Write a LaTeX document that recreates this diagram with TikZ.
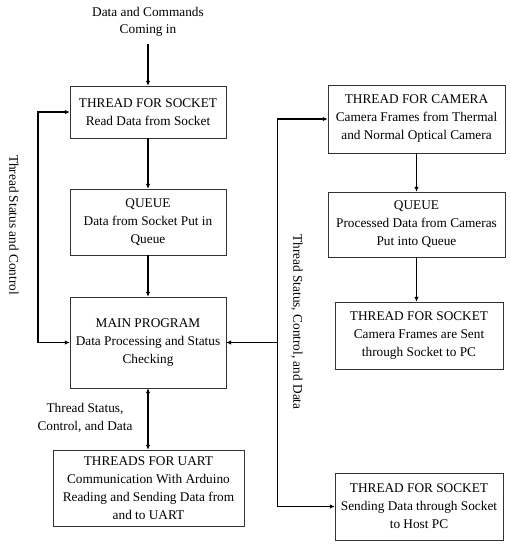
\documentclass[tikz,border=0pt]{standalone}
\usepackage{fontspec}
\setmainfont{Liberation Serif}
\usetikzlibrary{positioning,arrows.meta,calc}
\tikzset{
    boxnode/.style={align=center, inner sep=0pt, draw=black!80, fill=white, font=\fontsize{13.3}{18}\selectfont},
    % Left column boxes
    node_left/.style = {boxnode, minimum width=156pt},
    % Right column boxes
    node_right/.style = {boxnode, minimum width=177pt},
    % Connectors
    link/.style = {line width=1.4pt, -{Latex[length=5pt,width=4.5pt]}},
    link_both/.style = {line width=1.4pt, {Latex[length=5pt,width=4.5pt]}-{Latex[length=5pt,width=4.5pt]}},
    label_txt/.style = {align=center, inner sep=0pt, font=\fontsize{13.3}{17.5}\selectfont}
}

\begin{document}
\begin{tikzpicture}[x=1pt, y=-1pt]
    \useasboundingbox (0,0) rectangle (511,550);

    % left column
    \node[label_txt] (input) at (148,22) {Data and Commands\\Coming in};
    \node[node_left, minimum height=52pt] (sock_rd) at (148,112) {THREAD FOR SOCKET\\Read Data from Socket};
    \node[node_left, minimum height=66pt] (queue_sock) at (148,222) {QUEUE\\Data from Socket Put in\\Queue};
    \node[node_left, minimum height=91pt] (main) at (148,342.5) {MAIN PROGRAM\\Data Processing and Status\\Checking};
    \node[boxnode, minimum width=191pt, minimum height=76pt] (uart) at (148.5,488) {THREADS FOR UART\\Communication With Arduino\\Reading and Sending Data from\\and to UART};

    % right column
    \node[node_right, minimum height=68pt] (cam) at (416.5,119) {THREAD FOR CAMERA\\Camera Frames from Thermal\\and Normal Optical Camera};
    \node[node_right, minimum height=65pt] (queue_cam) at (416.5,224.5) {QUEUE\\Processed Data from Cameras\\Put into Queue};
    \node[boxnode, minimum width=168pt, minimum height=67pt] (sock_cam) at (419,335.5) {THREAD FOR SOCKET\\Camera Frames are Sent\\through Socket to PC};
    \node[boxnode, minimum width=168pt, minimum height=67pt] (sock_pc) at (419,506.5) {THREAD FOR SOCKET\\Sending Data through Socket\\to Host PC};

    % vertical labels
    \node[label_txt, rotate=-90] (lbl_left) at (14,225) {Thread Status and Control};
    \node[label_txt, rotate=-90] (lbl_right) at (297,322) {Thread Status, Control, and Data};
    \node[label_txt] (lbl_uart) at (85,418) {Thread Status,\\Control, and Data};

    \coordinate (in_top) at (148,44);
    \coordinate (left_bus) at (38,0);
    \coordinate (jn) at ($(main.east)+(51,0)$);

    % connectors
    \draw[link] (in_top) -- (sock_rd);
    \draw[link] (sock_rd) -- (sock_rd |- queue_sock.north);
    \draw[link] (queue_sock) -- (queue_sock |- main.north);
    \draw[link_both] (main.south) -- (main.south |- uart.north);
    \draw[link_both] (main.west) -| (left_bus |- main.west) |- (sock_rd.west);
    \draw[link] (jn) -- (main.east);
    \draw[link] (jn) |- (cam.west);
    \draw[link] (jn) |- (sock_pc.west);
    \draw[link] (cam) -- (queue_cam);
    \draw[link] (queue_cam.south) -- (queue_cam.south |- sock_cam.north);
\end{tikzpicture}
\end{document}
